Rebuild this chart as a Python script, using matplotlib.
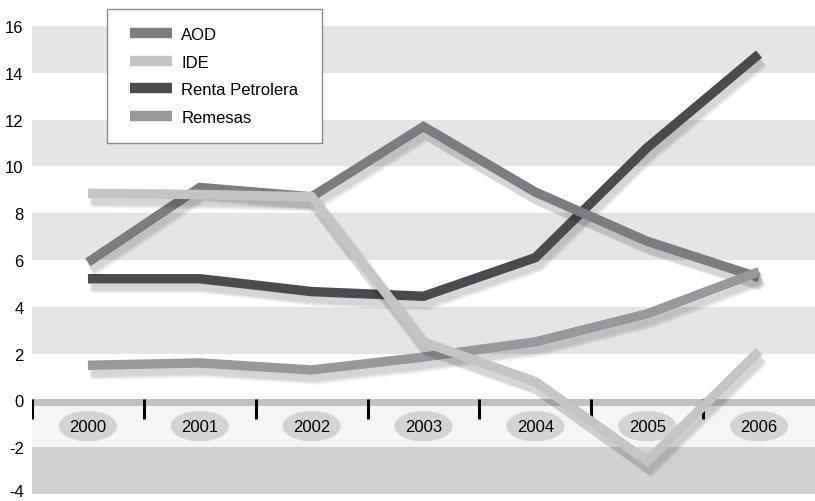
import matplotlib
matplotlib.use("Agg")
import matplotlib.pyplot as plt
import matplotlib.patheffects as pe
import matplotlib.transforms as mtransforms
from matplotlib.patches import Ellipse
from matplotlib.lines import Line2D
from matplotlib.legend_handler import HandlerLine2D

plt.rcParams["font.family"] = ["Liberation Sans", "DejaVu Sans"]

years = ["2000", "2001", "2002", "2003", "2004", "2005", "2006"]
aod = [5.9, 9.1, 8.7, 11.7, 8.9, 6.8, 5.25]
ide = [8.85, 8.8, 8.7, 2.5, 0.8, -2.6, 2.1]
renta = [5.2, 5.2, 4.65, 4.45, 6.1, 10.8, 14.8]
remesas = [1.5, 1.6, 1.3, 1.85, 2.5, 3.7, 5.5]

yticks = list(range(-4, 17, 2))

fig = plt.figure(figsize=(8.15, 5.02), dpi=100)
ax = fig.add_axes([32 / 815, 7 / 502, 783 / 815, 468 / 502])
ax.set_xlim(-0.5, 6.5)
ax.set_ylim(-4, 16)

# alternating bands
for lo in (2, 6, 10, 14):
    ax.axhspan(lo, lo + 2, color="#e4e5e6", lw=0, zorder=0)
ax.axhspan(-2, 0, color="#f4f5f5", lw=0, zorder=0)
ax.axhspan(-4, -2, color="#d0d1d3", lw=0, zorder=0)
ax.axhspan(-0.22, 0.04, color="#c0c1c3", lw=0, zorder=0.5)

x = list(range(len(years)))

# tick marks between the years
ax.vlines([i - 0.5 for i in x], -0.8, 0.04, color="black", lw=2.2, zorder=1)

# year labels in grey ovals
for i, yr in enumerate(years):
    ax.add_patch(Ellipse((i, -1.1), 0.52, 1.3, facecolor="#d2d3d5",
                         edgecolor="none", zorder=1))
    ax.text(i, -1.1, yr, ha="center", va="center", fontsize=12, zorder=2)

shadow = [
    pe.SimpleLineShadow(offset=(1, -3), shadow_color="black", alpha=0.06, linewidth=11),
    pe.SimpleLineShadow(offset=(2, -5), shadow_color="black", alpha=0.06, linewidth=9),
    pe.SimpleLineShadow(offset=(3, -7), shadow_color="black", alpha=0.05, linewidth=7),
    pe.Normal(),
]

series = [
    ("Renta Petrolera", renta, "#4b4a4f", 3),
    ("AOD", aod, "#7d7c81", 4),
    ("Remesas", remesas, "#98979c", 5),
    ("IDE", ide, "#c2c4c6", 6),
]
handles = {}
for name, vals, col, z in series:
    ln, = ax.plot(x, vals, color=col, lw=6.8, solid_capstyle="butt",
                  solid_joinstyle="miter", zorder=z, path_effects=shadow)
    handles[name] = ln

ax.set_yticks(yticks)
ax.set_yticklabels([str(v) for v in yticks], fontsize=12)
ax.tick_params(axis="y", length=0, pad=6)
ax.set_xticks([])
for s in ax.spines.values():
    s.set_visible(False)

# nudge the bottom label up so it stays inside the figure
lab = ax.get_yticklabels()[0]
lab.set_transform(lab.get_transform() +
                  mtransforms.ScaledTranslation(0, 3 / 72, fig.dpi_scale_trans))

order = ["AOD", "IDE", "Renta Petrolera", "Remesas"]
leg_handles = [Line2D([], [], color=handles[n].get_color(), lw=7.5,
                      solid_capstyle="butt") for n in order]
leg = fig.legend(leg_handles, order, loc="upper left",
                 bbox_to_anchor=(107 / 815, 364 / 502, 215 / 815, 128 / 502),
                 mode="expand", fontsize=12,
                 handler_map={Line2D: HandlerLine2D(xpad=0.31)},
                 handlelength=2.82, handletextpad=0.55, labelspacing=0.75,
                 borderpad=1.09, borderaxespad=0, fancybox=False,
                 edgecolor="#8a8a8a", framealpha=1)
leg.get_frame().set_linewidth(1)
leg.set_zorder(10)

fig.savefig("out.png", dpi=100)
